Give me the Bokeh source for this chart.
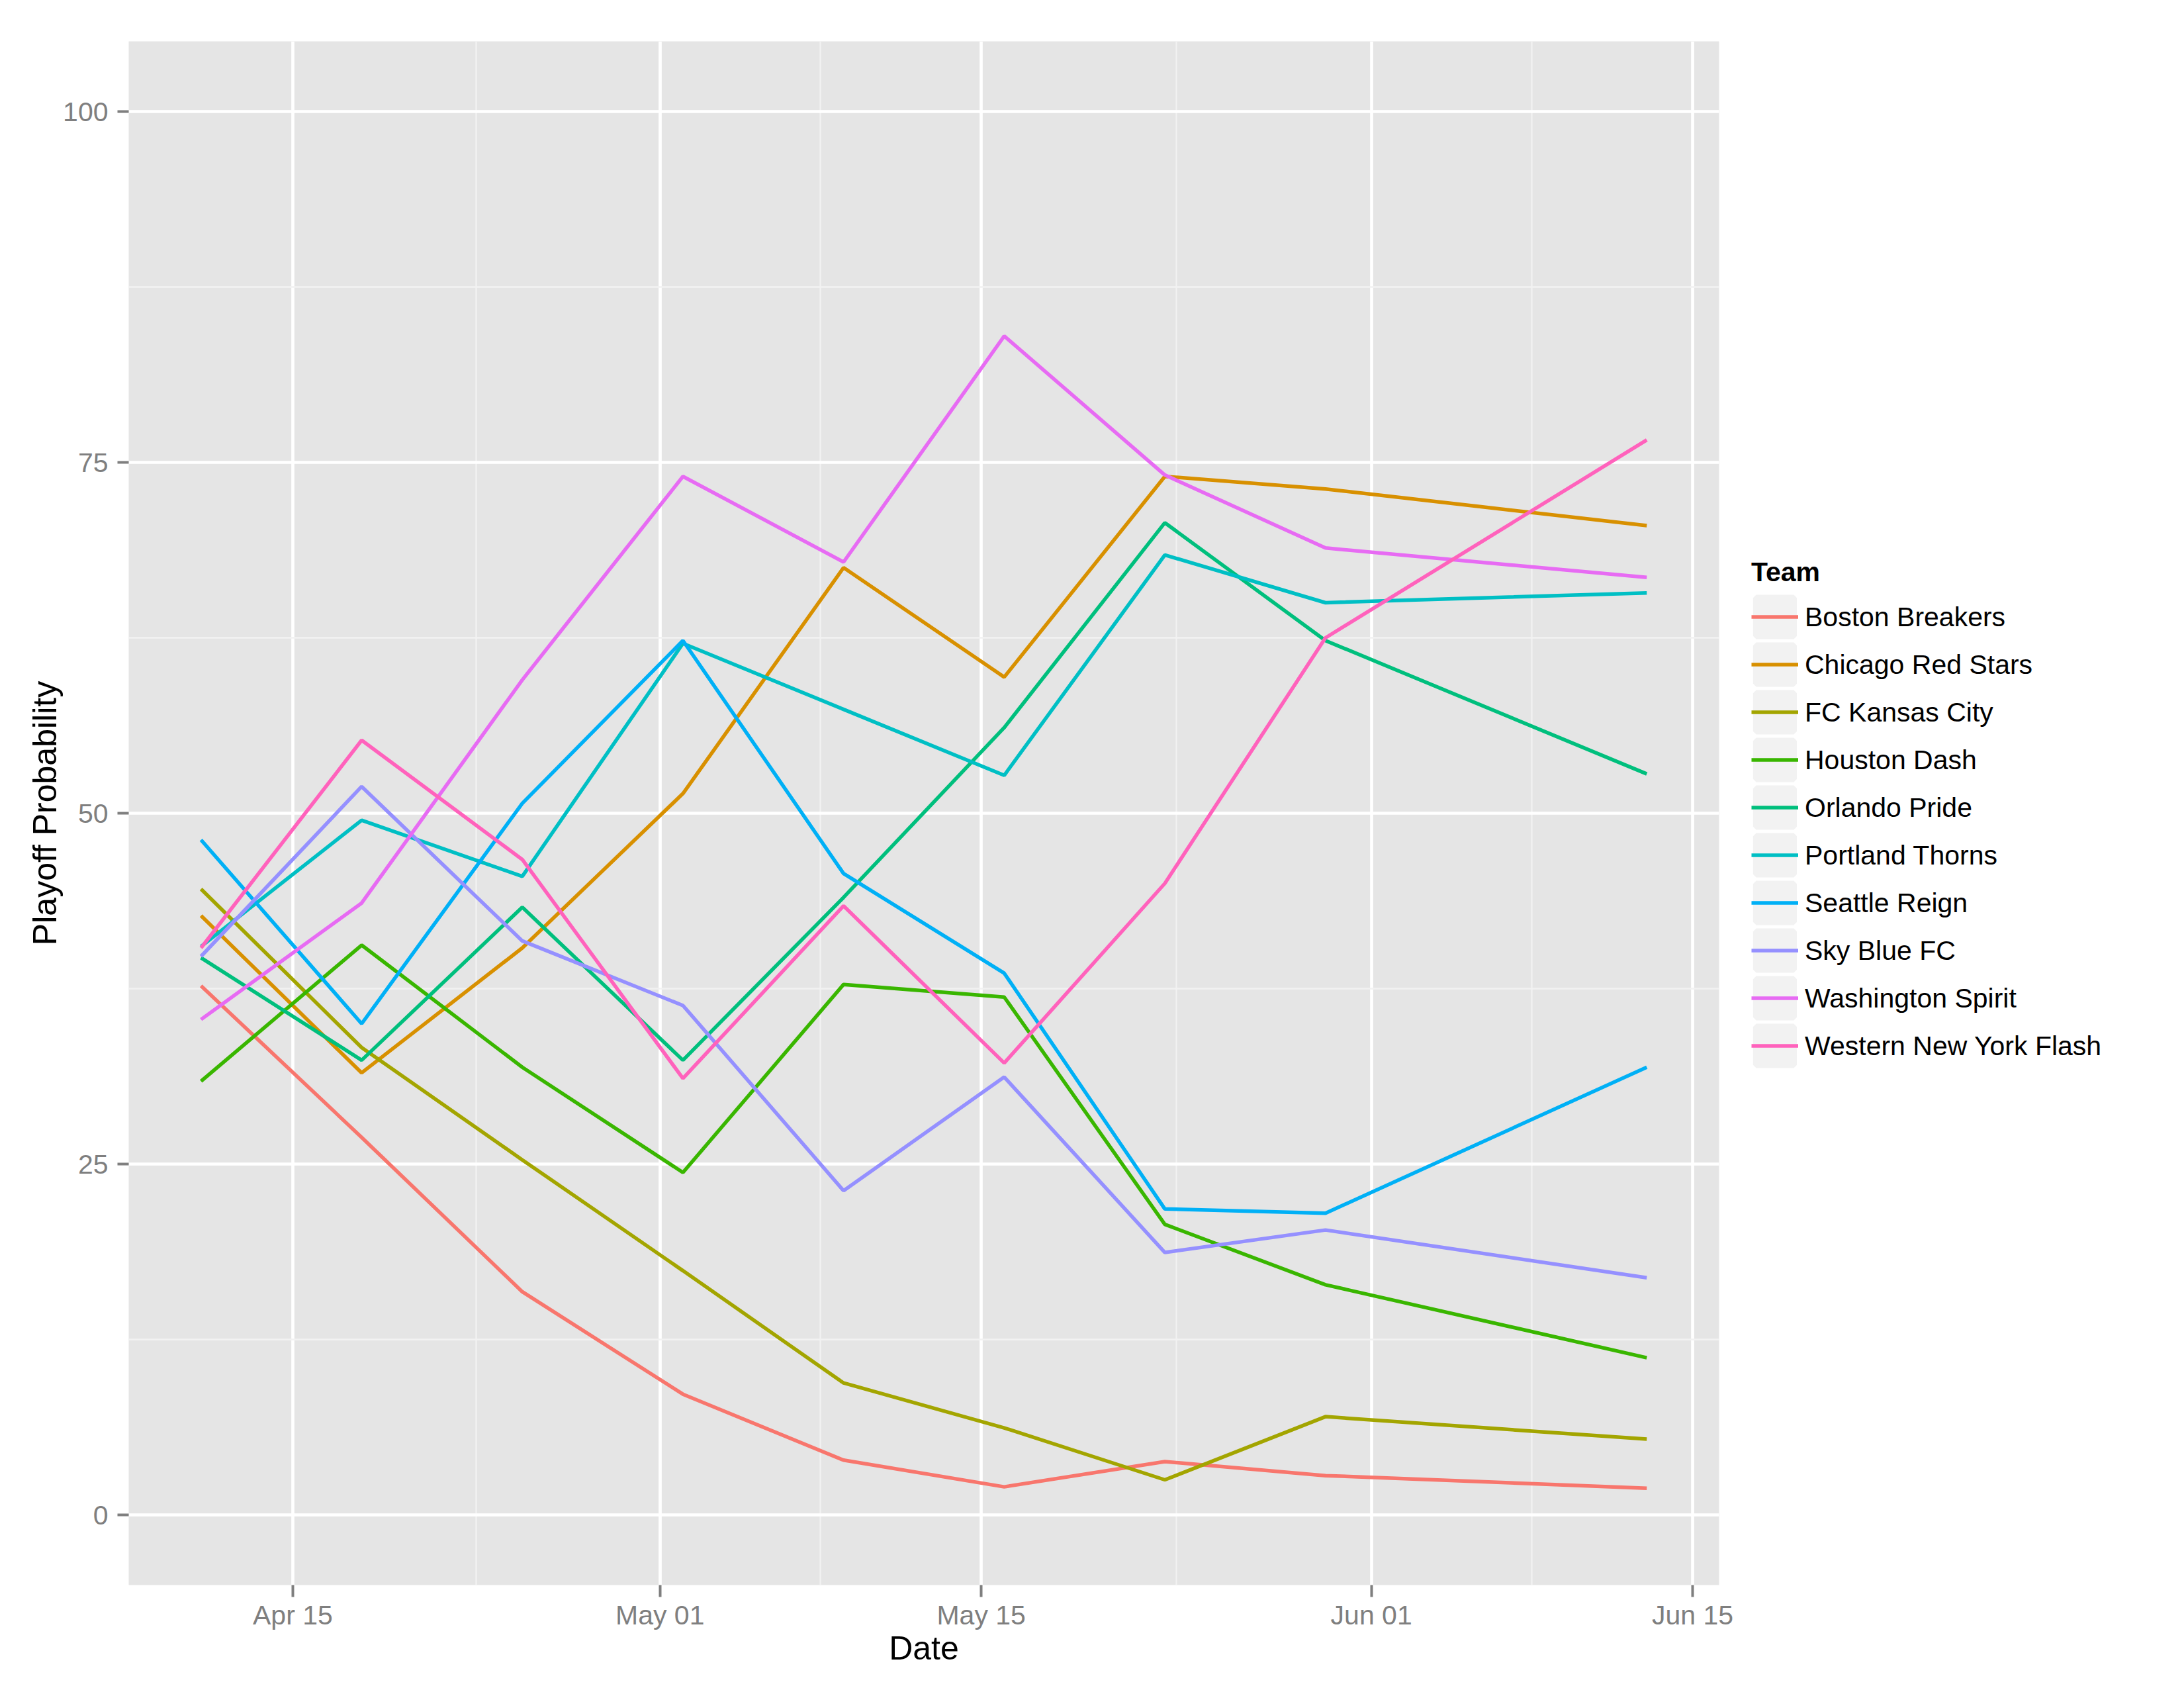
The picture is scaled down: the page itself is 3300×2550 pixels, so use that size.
import pandas as pd
from bokeh.plotting import figure
from bokeh.models import Range1d, FixedTicker, DatetimeTickFormatter, Legend, LegendItem
from bokeh.embed import file_html
from bokeh.resources import INLINE

# ---------------- data ----------------
dates = ["2016-04-11", "2016-04-18", "2016-04-25", "2016-05-02", "2016-05-09",
         "2016-05-16", "2016-05-23", "2016-05-30", "2016-06-13"]

teams = ["Boston Breakers", "Chicago Red Stars", "FC Kansas City", "Houston Dash",
         "Orlando Pride", "Portland Thorns", "Seattle Reign", "Sky Blue FC",
         "Washington Spirit", "Western New York Flash"]

boston_breakers = [37.7, 26.9, 15.9, 8.6, 3.9, 2.0, 3.8, 2.8, 1.9]
chicago_red_stars = [42.7, 31.5, 40.4, 51.4, 67.5, 59.7, 74.0, 73.1, 70.5]
fc_kansas_city = [44.6, 33.3, 25.3, 17.4, 9.4, 6.2, 2.5, 7.0, 5.4]
houston_dash = [30.9, 40.6, 31.9, 24.4, 37.8, 36.9, 20.7, 16.4, 11.2]
orlando_pride = [39.7, 32.4, 43.3, 32.4, 44.0, 56.1, 70.7, 62.3, 52.8]
portland_thorns = [40.5, 49.5, 45.5, 62.1, 57.4, 52.7, 68.4, 65.0, 65.7]
seattle_reign = [48.1, 35.0, 50.7, 62.3, 45.7, 38.6, 21.8, 21.5, 31.9]
sky_blue_fc = [39.8, 51.9, 40.9, 36.3, 23.1, 31.2, 18.7, 20.3, 16.9]
washington_spirit = [35.3, 43.6, 59.5, 74.0, 67.9, 84.0, 74.1, 68.9, 66.8]
western_new_york_flash = [40.4, 55.2, 46.7, 31.1, 43.4, 32.2, 45.0, 62.5, 76.6]

series = [boston_breakers, chicago_red_stars, fc_kansas_city, houston_dash,
          orlando_pride, portland_thorns, seattle_reign, sky_blue_fc,
          washington_spirit, western_new_york_flash]

colors = ["#F8766D", "#D89000", "#A3A500", "#39B600", "#00BF7D",
          "#00BFC4", "#00B0F6", "#9590FF", "#E76BF3", "#FF62BC"]

x_tick_dates = ["2016-04-15", "2016-05-01", "2016-05-15", "2016-06-01", "2016-06-15"]
y_ticks = [0, 25, 50, 75, 100]

# ---------------- figure ----------------
x = pd.to_datetime(dates)
span = x.max() - x.min()
x_start = x.min() - span * 0.05
x_end = x.max() + span * 0.05

FONT = "Liberation Sans"

p = figure(
    x_axis_type="datetime",
    frame_width=2403, frame_height=2332,
    min_border_left=194, min_border_right=687, min_border_top=62, min_border_bottom=140,
    x_range=Range1d(x_start, x_end), y_range=Range1d(-5, 105),
    output_backend="svg", toolbar_location=None,
    background_fill_color="#E5E5E5", border_fill_color="white",
)
p.outline_line_color = None

def ms(d):
    return pd.Timestamp(d).value // 10**6

xt = [ms(d) for d in x_tick_dates]
xminor = [(a + b) / 2 for a, b in zip(xt[:-1], xt[1:])]
p.xaxis.ticker = FixedTicker(ticks=xt, minor_ticks=xminor)
fmt = "%b %d"
p.xaxis.formatter = DatetimeTickFormatter(days=fmt, months=fmt, hours=fmt, years=fmt,
                                          minutes=fmt, hourmin=fmt)
ym = [(a + b) / 2 for a, b in zip(y_ticks[:-1], y_ticks[1:])]
p.yaxis.ticker = FixedTicker(ticks=y_ticks, minor_ticks=ym)

for ax in (p.xaxis[0], p.yaxis[0]):
    ax.axis_line_color = None
    ax.major_tick_line_color = "#7F7F7F"
    ax.major_tick_line_width = 4
    ax.major_tick_in = 0
    ax.major_tick_out = 18
    ax.minor_tick_line_color = None
    ax.major_label_text_font = FONT
    ax.major_label_text_font_size = "41px"
    ax.major_label_text_color = "#7F7F7F"
    ax.axis_label_text_font = FONT
    ax.axis_label_text_font_size = "50px"
    ax.axis_label_text_font_style = "normal"
    ax.axis_label_text_color = "black"

p.xaxis.axis_label = "Date"
p.yaxis.axis_label = "Playoff Probability"
p.xaxis.major_label_standoff = 4
p.xaxis.axis_label_standoff = -4
p.yaxis.major_label_standoff = 14
p.yaxis.axis_label_standoff = -4
p.yaxis.major_tick_out = 17

for g in (p.xgrid[0], p.ygrid[0]):
    g.grid_line_color = "white"
    g.grid_line_width = 4.7
    g.minor_grid_line_color = "#F2F2F2"
    g.minor_grid_line_width = 2.3

items = []
for name, vals, col in zip(teams, series, colors):
    # zero-size rect: only provides the grey key background in the legend
    key = p.rect(x=x[:1], y=vals[:1], width=0, height=0,
                 fill_color="#F2F2F2", line_color="#F2F2F2", line_width=9.4)
    r = p.line(x, vals, line_color=col, line_width=5.5)
    items.append(LegendItem(label=name, renderers=[key, r]))

legend = Legend(items=items, location="center_left", title="Team",
                title_text_font=FONT, title_text_font_size="41px",
                title_text_font_style="bold", title_text_color="black",
                title_standoff=8,
                label_text_font=FONT, label_text_font_size="41px",
                label_text_color="black",
                glyph_width=71, glyph_height=72, spacing=0,
                label_standoff=10, padding=0, margin=49,
                border_line_color=None, background_fill_alpha=0)
p.add_layout(legend, "right")

open("out.html", "w").write(file_html(p, INLINE))
